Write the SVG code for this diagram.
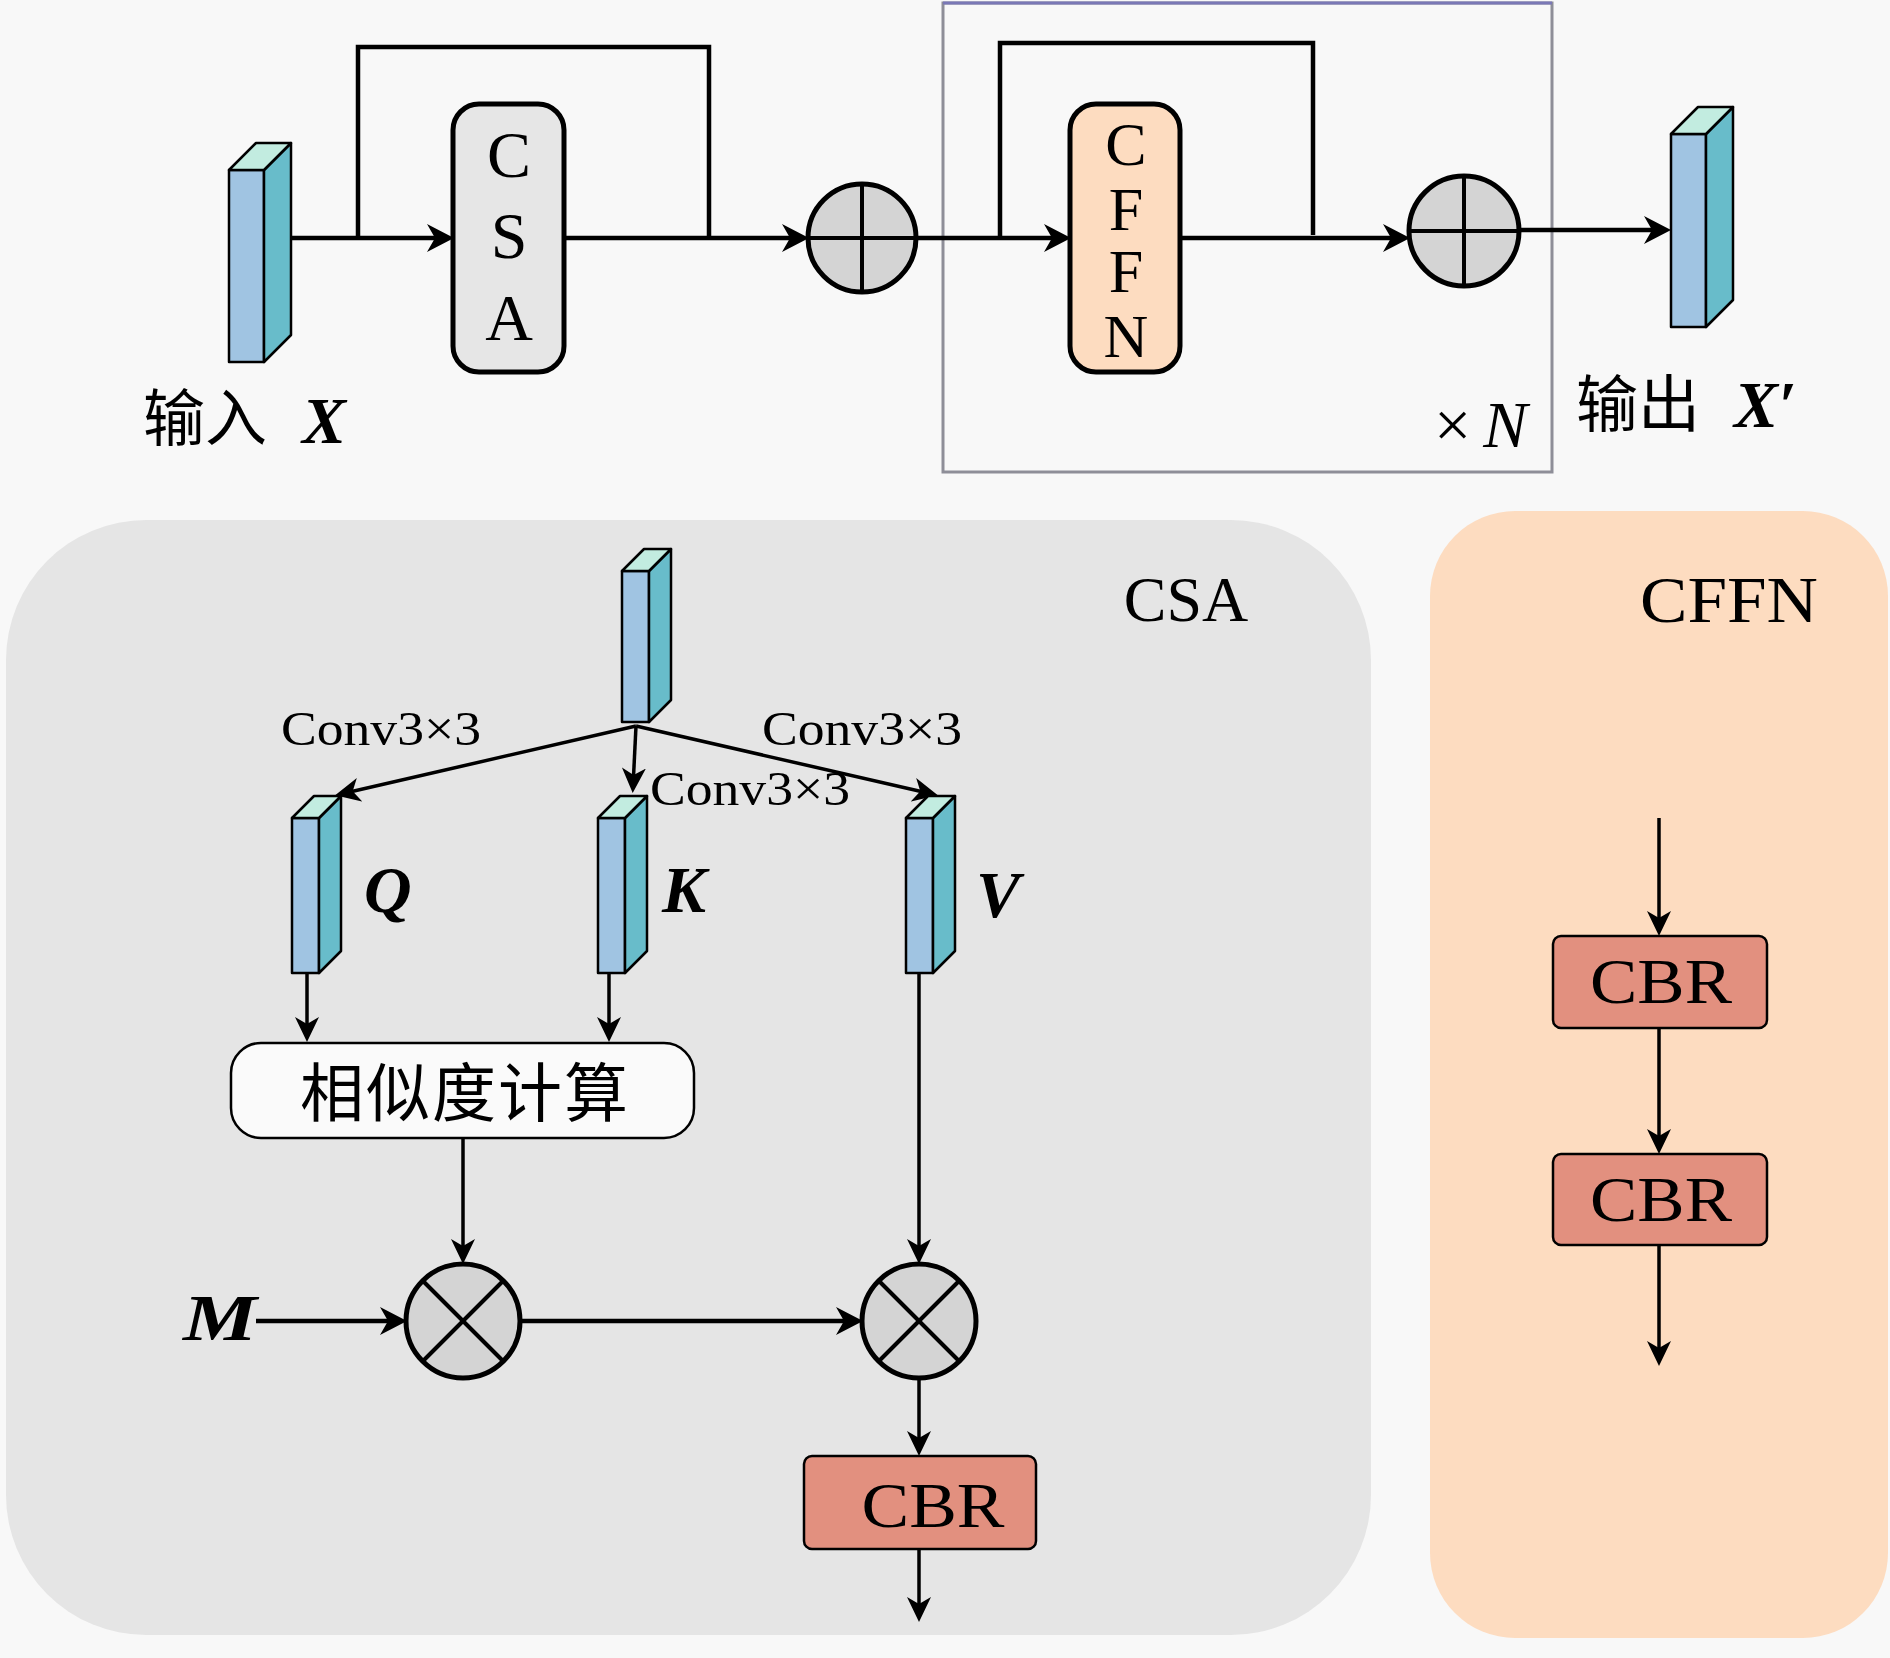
<svg xmlns="http://www.w3.org/2000/svg" width="1890" height="1658" viewBox="0 0 1890 1658">
<style>
.ln{fill:none;stroke:#000;stroke-width:4.5}
.lnb{fill:none;stroke:#000;stroke-width:3.5}
.front{fill:#a0c4e2;stroke:#000;stroke-width:2.5;stroke-linejoin:round}
.side{fill:#68bcca;stroke:#000;stroke-width:2.5;stroke-linejoin:round}
.topf{fill:#c2ece0;stroke:#000;stroke-width:2.5;stroke-linejoin:round}
.op{fill:#d4d4d4;stroke:#000;stroke-width:5}
.opl{stroke:#000;stroke-width:4;fill:none}
.cbr{fill:#e2907f;stroke:#000;stroke-width:2.5}
.lat{font-family:"Liberation Serif",serif;fill:#000}
.cjk{font-family:"Noto Sans CJK SC","Noto Sans CJK JP",sans-serif;fill:#000}
.bi{font-family:"Liberation Serif",serif;font-weight:bold;font-style:italic;fill:#000}
</style>
<defs>
<marker id="arrL" markerUnits="userSpaceOnUse" markerWidth="28" markerHeight="30" viewBox="0 0 28 30" refX="20" refY="15" orient="auto">
<path d="M0,1 L27,15 L0,29 L8,15 z" fill="#000"/>
</marker>
<marker id="arrS" markerUnits="userSpaceOnUse" markerWidth="26" markerHeight="26" viewBox="0 0 26 26" refX="19" refY="13" orient="auto">
<path d="M0,1 L25,13 L0,25 L7,13 z" fill="#000"/>
</marker>
</defs>
<rect x="0" y="0" width="1890" height="1658" fill="#f8f8f8"/>

<g id="panel-csa">
<rect x="6" y="520" width="1365" height="1115" rx="140" ry="140" fill="#e5e5e5"/>
<text class="lat" x="1186" y="621" font-size="64" text-anchor="middle">CSA</text>
</g>
<g id="panel-cffn">
<rect x="1430" y="511" width="458" height="1127" rx="85" ry="85" fill="#fddcc0"/>
<text class="lat" x="1729" y="622" font-size="66" text-anchor="middle" textLength="178" lengthAdjust="spacingAndGlyphs">CFFN</text>
</g>

<g id="repeat-box">
<rect x="943" y="3" width="609" height="469" fill="none" stroke="#8e8e98" stroke-width="3"/>
<line x1="943" y1="3" x2="1552" y2="3" stroke="#7a78b6" stroke-width="3"/>
<text x="1434" y="447" font-size="66" class="lat">×<tspan font-style="italic" dx="12">N</tspan></text>
</g>

<g id="connectors">
<line class="ln" x1="291" y1="238" x2="447" y2="238" marker-end="url(#arrL)"/>
<polyline class="ln" points="358,238 358,47 709,47 709,238"/>
<line class="ln" x1="564" y1="238" x2="802" y2="238" marker-end="url(#arrL)"/>
<line class="ln" x1="916" y1="238" x2="1064" y2="238" marker-end="url(#arrL)"/>
<polyline class="ln" points="1000,238 1000,43 1313,43 1313,235"/>
<line class="ln" x1="1180" y1="238" x2="1403" y2="238" marker-end="url(#arrL)"/>
<line class="ln" x1="1519" y1="230" x2="1664" y2="230" marker-end="url(#arrL)"/>
<line class="lnb" x1="636" y1="726" x2="341" y2="794" marker-end="url(#arrS)"/>
<line class="lnb" x1="636" y1="726" x2="633" y2="787" marker-end="url(#arrS)"/>
<line class="lnb" x1="636" y1="726" x2="932" y2="794" marker-end="url(#arrS)"/>
<line class="lnb" x1="307" y1="973" x2="307" y2="1036" marker-end="url(#arrS)"/>
<line class="lnb" x1="609" y1="973" x2="609" y2="1036" marker-end="url(#arrS)"/>
<line class="lnb" x1="463" y1="1138" x2="463" y2="1258" marker-end="url(#arrS)"/>
<line class="lnb" x1="919" y1="973" x2="919" y2="1258" marker-end="url(#arrS)"/>
<line class="ln" x1="256" y1="1321" x2="400" y2="1321" marker-end="url(#arrL)"/>
<line class="ln" x1="520" y1="1321" x2="856" y2="1321" marker-end="url(#arrL)"/>
<line class="lnb" x1="919" y1="1378" x2="919" y2="1450" marker-end="url(#arrS)"/>
<line class="lnb" x1="919" y1="1549" x2="919" y2="1616" marker-end="url(#arrS)"/>
<line class="lnb" x1="1659" y1="818" x2="1659" y2="930" marker-end="url(#arrS)"/>
<line class="lnb" x1="1659" y1="1028" x2="1659" y2="1148" marker-end="url(#arrS)"/>
<line class="lnb" x1="1659" y1="1245" x2="1659" y2="1360" marker-end="url(#arrS)"/>
</g>

<g id="input-x">
<rect class="front" x="229" y="170" width="35" height="192"/>
<polygon class="side" points="264,170 291,143 291,335 264,362"/>
<polygon class="topf" points="229,170 256,143 291,143 264,170"/>
<text class="cjk" x="143" y="441" font-size="62">输入</text>
<text class="bi" x="302" y="443" font-size="66">X</text>
</g>

<g id="csa-block">
<rect x="453" y="104" width="111" height="268" rx="26" ry="26" fill="#e6e6e6" stroke="#000" stroke-width="5"/>
<text class="lat" x="509" y="177" font-size="66" text-anchor="middle">C</text>
<text class="lat" x="509" y="258" font-size="66" text-anchor="middle">S</text>
<text class="lat" x="509" y="340" font-size="66" text-anchor="middle">A</text>
</g>

<g id="add1">
<circle class="op" cx="862" cy="238" r="54"/>
<line class="opl" x1="808" y1="238" x2="916" y2="238"/>
<line class="opl" x1="862" y1="184" x2="862" y2="292"/>
</g>

<g id="cffn-block">
<rect x="1070" y="104" width="110" height="268" rx="26" ry="26" fill="#fddcc0" stroke="#000" stroke-width="5"/>
<text class="lat" x="1126" y="165" font-size="62" text-anchor="middle">C</text>
<text class="lat" x="1126" y="230" font-size="62" text-anchor="middle">F</text>
<text class="lat" x="1126" y="292" font-size="62" text-anchor="middle">F</text>
<text class="lat" x="1126" y="357" font-size="62" text-anchor="middle">N</text>
</g>

<g id="add2">
<circle class="op" cx="1464" cy="231" r="55"/>
<line class="opl" x1="1409" y1="231" x2="1519" y2="231"/>
<line class="opl" x1="1464" y1="176" x2="1464" y2="286"/>
</g>

<g id="output-x">
<rect class="front" x="1671" y="134" width="35" height="193"/>
<polygon class="side" points="1706,134 1733,107 1733,300 1706,327"/>
<polygon class="topf" points="1671,134 1698,107 1733,107 1706,134"/>
<text class="cjk" x="1576" y="427" font-size="62">输出</text>
<text class="bi" x="1734" y="427" font-size="66">X′</text>
</g>

<g id="feat-in">
<rect class="front" x="622" y="571" width="27" height="151"/>
<polygon class="side" points="649,571 671,549 671,700 649,722"/>
<polygon class="topf" points="622,571 644,549 671,549 649,571"/>
</g>

<g id="labels-conv">
<text class="lat" x="281" y="745" font-size="48" textLength="200" lengthAdjust="spacingAndGlyphs">Conv3×3</text>
<text class="lat" x="762" y="745" font-size="48" textLength="200" lengthAdjust="spacingAndGlyphs">Conv3×3</text>
<text class="lat" x="650" y="805" font-size="48" textLength="200" lengthAdjust="spacingAndGlyphs">Conv3×3</text>
</g>

<g id="q">
<rect class="front" x="292" y="818" width="27" height="155"/>
<polygon class="side" points="319,818 341,796 341,951 319,973"/>
<polygon class="topf" points="292,818 314,796 341,796 319,818"/>
<text class="bi" x="364" y="912" font-size="66">Q</text>
</g>
<g id="k">
<rect class="front" x="598" y="818" width="27" height="155"/>
<polygon class="side" points="625,818 647,796 647,951 625,973"/>
<polygon class="topf" points="598,818 620,796 647,796 625,818"/>
<text class="bi" x="662" y="912" font-size="66">K</text>
</g>
<g id="v">
<rect class="front" x="906" y="818" width="27" height="155"/>
<polygon class="side" points="933,818 955,796 955,951 933,973"/>
<polygon class="topf" points="906,818 928,796 955,796 933,818"/>
<text class="bi" x="976" y="917" font-size="66">V</text>
</g>

<g id="similarity">
<rect x="231" y="1043" width="463" height="95" rx="30" ry="30" fill="#fafafa" stroke="#000" stroke-width="2.5"/>
<text class="cjk" x="465" y="1116" font-size="64" text-anchor="middle" letter-spacing="2">相似度计算</text>
</g>

<g id="m-label">
<text class="bi" x="183" y="1340" font-size="66" textLength="74" lengthAdjust="spacingAndGlyphs">M</text>
</g>

<g id="mul1">
<circle class="op" cx="463" cy="1321" r="57"/>
<line class="opl" x1="423" y1="1281" x2="503" y2="1361"/>
<line class="opl" x1="503" y1="1281" x2="423" y2="1361"/>
</g>
<g id="mul2">
<circle class="op" cx="919" cy="1321" r="57"/>
<line class="opl" x1="879" y1="1281" x2="959" y2="1361"/>
<line class="opl" x1="959" y1="1281" x2="879" y2="1361"/>
</g>

<g id="cbr-csa">
<rect class="cbr" x="804" y="1456" width="232" height="93" rx="8" ry="8"/>
<text class="lat" x="933" y="1527" font-size="64" text-anchor="middle" textLength="143" lengthAdjust="spacingAndGlyphs">CBR</text>
</g>
<g id="cbr1">
<rect class="cbr" x="1553" y="936" width="214" height="92" rx="8" ry="8"/>
<text class="lat" x="1661" y="1003" font-size="64" text-anchor="middle" textLength="142" lengthAdjust="spacingAndGlyphs">CBR</text>
</g>
<g id="cbr2">
<rect class="cbr" x="1553" y="1154" width="214" height="91" rx="8" ry="8"/>
<text class="lat" x="1661" y="1221" font-size="64" text-anchor="middle" textLength="142" lengthAdjust="spacingAndGlyphs">CBR</text>
</g>
</svg>
